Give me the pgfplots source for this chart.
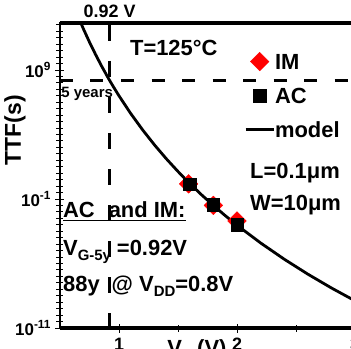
\documentclass[border=0pt]{standalone}
\usepackage{fontspec}
\setmainfont{Liberation Sans}
\usepackage{pgfplots}
\pgfplotsset{compat=1.18}

\newcommand{\fs}[1]{\fontsize{#1}{#1}\selectfont\bfseries}
\newcommand{\sub}[1]{\raisebox{-5bp}{\fs{15}#1}}

\begin{document}
\begin{tikzpicture}
\begin{axis}[
  at={(0,0)}, anchor=south west,
  scale only axis, width=295bp, height=305bp,
  xmin=0.5, xmax=3,
  ymode=log, ymin=1e-11, ymax=4.37e12,
  clip=false,
  axis line style={line width=1.2bp},
  xtick={1,2,3}, xticklabels={1,2,3}, minor xtick={1.5,2.5},
  ytick={1e-11,1e-1,1e9},
  yticklabels={10\textsuperscript{-11},10\textsuperscript{-1},10\textsuperscript{9}},
  minor ytick={3.16e-11,1e-10,3.16e-10,1e-9,3.16e-9,1e-8,3.16e-8,1e-7,3.16e-7,1e-6,3.16e-6,1e-5,3.16e-5,1e-4,3.16e-4,1e-3,3.16e-3,1e-2,3.16e-2,3.16e-1,1,3.16,10,31.6,100,316,1e3,3.16e3,1e4,3.16e4,1e5,3.16e5,1e6,3.16e6,1e7,3.16e7,1e8,3.16e8,3.16e9,1e10,3.16e10,1e11,3.16e11,1e12,3.16e12},
  xtick pos=bottom, ytick pos=left,
  tick align=center,
  major tick length=9bp, minor tick length=7bp,
  tick style={black, line width=0.9bp},
  x tick label style={font=\fs{18}, yshift=-2bp},
  y tick label style={font=\fs{17}, xshift=-1bp},
  legend style={draw=none, fill=none, font=\fs{22},
    at={(rel axis cs:0.624,0.93)}, anchor=north west,
    row sep=0pt, inner sep=0pt,
    nodes={inner sep=0pt, text height=16bp, text depth=0bp, minimum height=34bp}},
  legend cell align=left,
  /tikz/every even column/.append style={column sep=8bp},
  legend image code/.code={\draw[mark repeat=2,mark phase=2,#1] plot coordinates {(0bp,0bp) (14bp,0bp) (28bp,0bp)};},
]

% measured stress points
\addplot[only marks, mark=square*, mark size=6.6bp, red, mark options={rotate=45, fill=red, draw=red}]
  coordinates {(1.59,1.5) (1.8,3.2e-2) (2.0,2.0e-3)};
\addlegendentry{IM}
\addplot[only marks, mark=square*, mark size=6.2bp, black, mark options={fill=black}]
  coordinates {(1.6,1.43) (1.8,3.5e-2) (2.0,1.0e-3)};
\addlegendentry{AC}
% lifetime model
\addplot[black, line width=2.8bp, no marks] coordinates {
  (0.677,4.37e12) (0.70,1.42e12) (0.75,1.43e11) (0.80,1.67e10) (0.85,2.21e9)
  (0.90,3.30e8) (0.92,1.58e8) (0.95,5.46e7) (1.0,9.89e6) (1.1,4.13e5)
  (1.2,2.28e4) (1.3,1.58e3) (1.4,1.34e2) (1.5,1.35e1) (1.6,1.57)
  (1.7,2.09e-1) (1.8,3.12e-2) (1.9,5.15e-3) (2.0,9.33e-4) (2.2,3.91e-5)
  (2.4,2.16e-6) (2.6,1.50e-7) (2.8,1.27e-8) (3.0,1.28e-9)};
\addlegendentry{model}

% 5-year lifetime and 0.92 V guides
\addplot[forget plot, black, line width=3.5bp, dash pattern=on 13bp off 17.5bp]
  coordinates {(0.5,1.58e8) (3.0,1.58e8)};
\addplot[forget plot, black, line width=3bp, dash pattern=on 16bp off 20bp, dash phase=-2bp]
  coordinates {(0.92,4.37e12) (0.92,1e-11)};

% heavy top and bottom frame
\draw[line width=3.5bp] (rel axis cs:0,1) -- (rel axis cs:1,1);
\draw[line width=3.5bp] (rel axis cs:0,0) -- (rel axis cs:1,0);

\node[anchor=base, font=\fs{18}] at ([yshift=5bp]axis cs:0.92,4.37e12) {0.92 V};
\node[anchor=base west, font=\fs{15}, inner sep=0pt] at (rel axis cs:0.004,0.757) {5 years};
\node[anchor=base west, font=\fs{22}, inner sep=0pt] at (rel axis cs:0.237,0.892) {T=125°C};
\node[anchor=base west, font=\fs{22}, inner sep=0pt] at (rel axis cs:0.644,0.489) {L=0.1μm};
\node[anchor=base west, font=\fs{22}, inner sep=0pt] at (rel axis cs:0.644,0.384) {W=10μm};
\node[anchor=base west, font=\fs{22}, inner sep=0pt] (acim) at (rel axis cs:0.010,0.361) {AC\hspace{14bp}and IM:};
\draw[line width=1.6bp] ([yshift=-2.5bp]acim.base west) -- ([yshift=-2.5bp]acim.base east);
\node[anchor=base west, font=\fs{22}, inner sep=0pt] at (rel axis cs:0.010,0.239) {V\sub{G-5y}\hspace{6bp}=0.92V};
\node[anchor=base west, font=\fs{22}, inner sep=0pt] at (rel axis cs:0.010,0.121) {88y\hspace{12bp}@ V\sub{DD}=0.8V};

\node[anchor=north, font=\fs{22}, inner sep=0pt] at ([yshift=-11bp]rel axis cs:0.464,0) {V\sub{G}\,(V)};
\node[rotate=90, anchor=center, font=\fs{23}, inner sep=0pt] at ([xshift=-45bp]rel axis cs:0,0.649) {TTF(s)};
\end{axis}
\pgfresetboundingbox
\path[use as bounding box] (-60bp,-21bp) rectangle (291bp,328bp);
\end{tikzpicture}
\end{document}
